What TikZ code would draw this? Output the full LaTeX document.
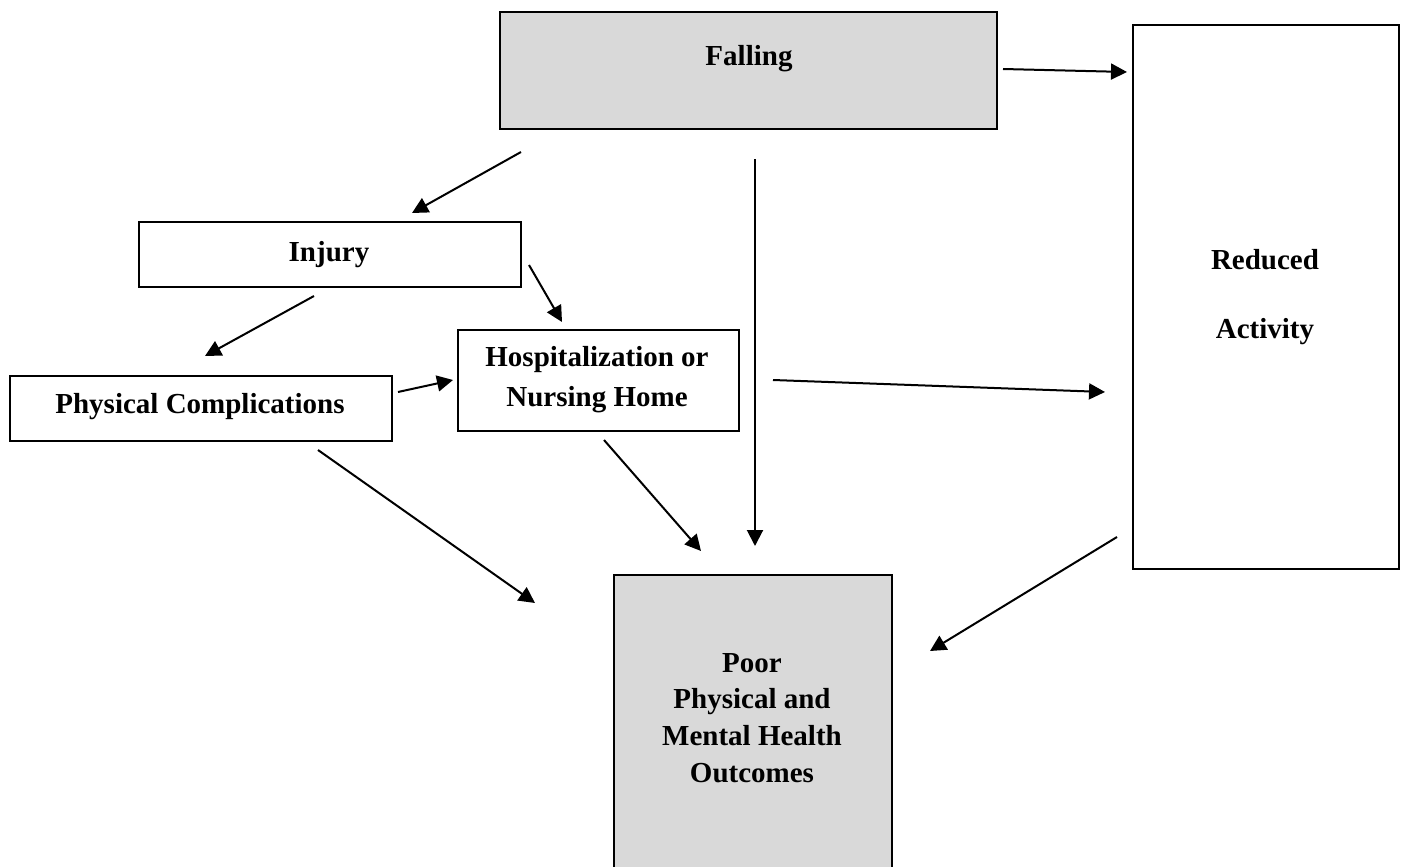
\documentclass[tikz,border=0pt]{standalone}
\usepackage{fontspec}
\setmainfont{Liberation Serif}
\usetikzlibrary{arrows.meta}
\definecolor{boxgray}{HTML}{D9D9D9}
\begin{document}
\begin{tikzpicture}[x=1pt,y=-1pt,
  box/.style={draw=black, line width=2pt, inner sep=0pt, anchor=north west},
  gbox/.style={box, fill=boxgray},
  lbl/.style={font=\fontsize{29}{36}\selectfont\bfseries, inner sep=0pt, anchor=base},
  conn/.style={line width=2pt, -{Triangle[length=16pt,width=16pt]}}]
\useasboundingbox (0,0) rectangle (1401,867);
% boxes
\node[gbox, minimum width=497pt, minimum height=117pt] (falling) at (499,11) {};
\node[box, minimum width=266pt, minimum height=544pt] (reduced) at (1132,24) {};
\node[box, minimum width=382pt, minimum height=65pt] (injury) at (138,221) {};
\node[box, minimum width=382pt, minimum height=65pt] (physcomp) at (9,375) {};
\node[box, minimum width=281pt, minimum height=101pt] (hosp) at (457,329) {};
\node[gbox, minimum width=278pt, minimum height=310pt] (poor) at (613,574) {};
% labels
\node[lbl] (tfalling) at (749,66) {Falling};
\node[lbl] (treduced1) at (1265,269) {Reduced};
\node[lbl] (treduced2) at (1265,338) {Activity};
\node[lbl] (tinjury) at (329,261) {Injury};
\node[lbl] (tphys) at (200,413) {Physical Complications};
\node[lbl] (thosp1) at (597,366) {Hospitalization or};
\node[lbl] (thosp2) at (597,406) {Nursing Home};
\node[lbl] (tpoor1) at (752,672) {Poor};
\node[lbl] (tpoor2) at (752,708) {Physical and};
\node[lbl] (tpoor3) at (752,745) {Mental Health};
\node[lbl] (tpoor4) at (752,782) {Outcomes};
% connector endpoints
\coordinate (a1s) at (1003,69);  \coordinate (a1e) at (1127,72);
\coordinate (a2s) at (521,152);  \coordinate (a2e) at (412,213);
\coordinate (a3s) at (755,159);  \coordinate (a3e) at (755,546);
\coordinate (a4s) at (529,265);  \coordinate (a4e) at (562,322);
\coordinate (a5s) at (314,296);  \coordinate (a5e) at (205,356);
\coordinate (a6s) at (398,392);  \coordinate (a6e) at (453,380);
\coordinate (a7s) at (773,380);  \coordinate (a7e) at (1105,392);
\coordinate (a8s) at (318,450);  \coordinate (a8e) at (535,603);
\coordinate (a9s) at (604,440);  \coordinate (a9e) at (701,551);
\coordinate (a10s) at (1117,537); \coordinate (a10e) at (930,651);
\foreach \i in {1,...,10} \draw[conn] (a\i s) -- (a\i e);
\end{tikzpicture}
\end{document}
